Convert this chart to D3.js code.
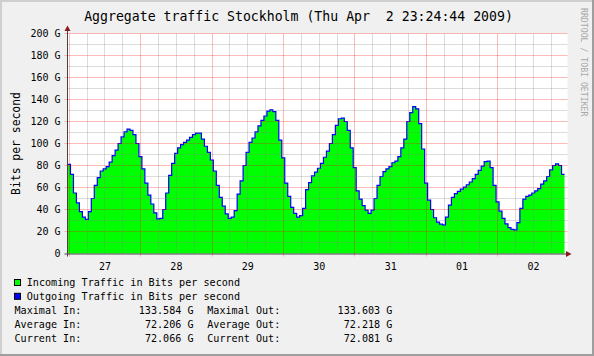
<!DOCTYPE html>
<html>
<head>
<meta charset="utf-8">
<script src="https://cdn.jsdelivr.net/npm/d3@7"></script>
<style>
  html, body { margin: 0; padding: 0; background: #f0f0f0; }
  svg { display: block; }
  text { font-family: "DejaVu Sans Mono", monospace; fill: #000; }
</style>
</head>
<body>
<svg id="chart" width="594" height="356"></svg>
<script>
// ---------------- data ----------------
const titleText = "Aggregate traffic Stockholm (Thu Apr  2 23:24:44 2009)";
const yAxisTitle = "Bits per second";
const watermark = "RRDTOOL / TOBI OETIKER";
const startTime = Date.UTC(2009, 2, 26, 23, 24, 44);
const endTime = Date.UTC(2009, 3, 2, 23, 24, 44);
const stepMs = 3600 * 1000; // hourly samples

// Incoming traffic, G bits/s, hourly from start
const incoming = [
  81, 72, 55, 46, 38, 33, 31, 38, 50, 62, 69, 75, 77, 79, 83, 89, 94, 100, 106, 110.5,
  113, 112, 108, 100, 88, 77, 64, 53, 45, 37, 31.5, 32, 40, 55, 71, 82, 91, 96, 99, 101,
  103, 105.5, 108, 109.5, 109.5, 104, 97.5, 92, 85, 75, 62, 51, 43, 36, 32, 33, 39,
  54, 66, 80, 92, 101, 105, 110.5, 116, 121, 125, 129.5, 130.6, 129, 121, 103, 87, 64, 52, 42, 36.5,
  33, 34.5, 41, 58, 64.5, 70.5, 74, 77.5, 82, 87.5, 93, 100, 108, 116.5, 122.5, 123, 120, 112, 96, 78,
  57, 49.5, 43.5, 39.5, 36.5, 39.5, 50, 62, 70, 74.5, 77, 79, 82.5, 84, 88, 96, 104,
  120, 128, 133.6, 131.5, 118, 95, 64, 48.5, 40, 32.5, 28.5, 26.7, 26, 33, 44, 51, 54.5, 56.5, 58.5, 60.3,
  62.5, 65, 68, 72, 75.5, 79.5, 83.5, 84, 78, 62, 47, 38.5, 32, 27, 23.6, 22, 21.5, 28, 41, 49.5,
  52, 53, 55, 57, 59, 63, 66, 70, 76, 80, 81.5, 80, 72
];
// Outgoing traffic (visually identical to incoming)
const outgoing = [
  81, 72, 55, 46, 38, 33, 31, 38, 50, 62, 69, 75, 77, 79, 83, 89, 94, 100, 106, 110.5,
  113, 112, 108, 100, 88, 77, 64, 53, 45, 37, 31.5, 32, 40, 55, 71, 82, 91, 96, 99, 101,
  103, 105.5, 108, 109.5, 109.5, 104, 97.5, 92, 85, 75, 62, 51, 43, 36, 32, 33, 39,
  54, 66, 80, 92, 101, 105, 110.5, 116, 121, 125, 129.5, 130.6, 129, 121, 103, 87, 64, 52, 42, 36.5,
  33, 34.5, 41, 58, 64.5, 70.5, 74, 77.5, 82, 87.5, 93, 100, 108, 116.5, 122.5, 123, 120, 112, 96, 78,
  57, 49.5, 43.5, 39.5, 36.5, 39.5, 50, 62, 70, 74.5, 77, 79, 82.5, 84, 88, 96, 104,
  120, 128, 133.6, 131.5, 118, 95, 64, 48.5, 40, 32.5, 28.5, 26.7, 26, 33, 44, 51, 54.5, 56.5, 58.5, 60.3,
  62.5, 65, 68, 72, 75.5, 79.5, 83.5, 84, 78, 62, 47, 38.5, 32, 27, 23.6, 22, 21.5, 28, 41, 49.5,
  52, 53, 55, 57, 59, 63, 66, 70, 76, 80, 81.5, 80, 72
];

const yTickValues = [0, 20, 40, 60, 80, 100, 120, 140, 160, 180, 200];
const yTickLabels = ["0", "20 G", "40 G", "60 G", "80 G", "100 G", "120 G", "140 G", "160 G", "180 G", "200 G"];
const dayLabels = ["27", "28", "29", "30", "31", "01", "02"];

const legendNames = ["Incoming Traffic in Bits per second", "Outgoing Traffic in Bits per second"];
const legendColors = ["#00ff00", "#0000ff"];
const statInLabels = ["Maximal In:", "Average In:", "Current In:"];
const statInValues = ["133.584 G", "72.206 G", "72.066 G"];
const statOutLabels = ["Maximal Out:", "Average Out:", "Current Out:"];
const statOutValues = ["133.603 G", "72.218 G", "72.081 G"];

// ---------------- layout ----------------
const W = 594, H = 356;
const L = 67.5, R = 567.5, T = 33.5, B = 253.5;

const svg = d3.select("#chart");

// background & 3D frame
svg.append("rect").attr("x", 0).attr("y", 0).attr("width", W).attr("height", H).attr("fill", "#f0f0f0");
svg.append("rect").attr("x", 0).attr("y", 0).attr("width", W).attr("height", 2).attr("fill", "#cfcfcf");
svg.append("rect").attr("x", 0).attr("y", 0).attr("width", 2).attr("height", H).attr("fill", "#cfcfcf");
svg.append("rect").attr("x", 0).attr("y", H - 2).attr("width", W).attr("height", 2).attr("fill", "#9e9e9e");
svg.append("rect").attr("x", W - 2).attr("y", 0).attr("width", 2).attr("height", H).attr("fill", "#9e9e9e");

// canvas
svg.append("rect").attr("x", L).attr("y", T).attr("width", R - L).attr("height", B - T).attr("fill", "#ffffff");

const x = d3.scaleUtc().domain([new Date(startTime), new Date(endTime)]).range([L, R]);
const y = d3.scaleLinear().domain([0, 200]).range([B, T]);

const pts = incoming.map((v, i) => ({ t: new Date(startTime + i * stepMs), v }));
pts.push({ t: new Date(startTime + incoming.length * stepMs), v: incoming[incoming.length - 1] });
const ptsOut = outgoing.map((v, i) => ({ t: new Date(startTime + i * stepMs), v }));
ptsOut.push({ t: new Date(startTime + outgoing.length * stepMs), v: outgoing[outgoing.length - 1] });

// area
const area = d3.area().x(d => x(d.t)).y0(y(0)).y1(d => y(d.v)).curve(d3.curveStepAfter);
svg.append("path").datum(pts).attr("d", area).attr("fill", "#00ff00");

// line
const line = d3.line().x(d => x(d.t)).y(d => y(d.v)).curve(d3.curveStepAfter);
svg.append("path").datum(ptsOut).attr("d", line).attr("fill", "none")
  .attr("stroke", "#0000ff").attr("stroke-width", 1.2);

// grid
const px = v => Math.round(v - 0.5) + 0.5;
const minorColor = "rgba(128,128,128,0.28)";
const majorColor = "rgba(255,0,0,0.27)";
const g = svg.append("g");

// horizontal minor (every 10)
d3.range(10, 200, 20).forEach(v => {
  g.append("line").attr("x1", L).attr("x2", R).attr("y1", px(y(v))).attr("y2", px(y(v)))
    .attr("stroke", minorColor).attr("stroke-width", 1);
});
// horizontal major
yTickValues.filter(v => v > 0).forEach(v => {
  g.append("line").attr("x1", L - 3).attr("x2", R).attr("y1", px(y(v))).attr("y2", px(y(v)))
    .attr("stroke", majorColor).attr("stroke-width", 1);
});
// vertical minor every 6 hours
const sixHours = d3.utcHour.every(6).range(new Date(startTime), new Date(endTime))
  .filter(d => d.getUTCHours() !== 0);
sixHours.forEach(d => {
  g.append("line").attr("x1", px(x(d))).attr("x2", px(x(d))).attr("y1", T).attr("y2", B)
    .attr("stroke", minorColor).attr("stroke-width", 1);
});
// vertical major at midnight
const days = d3.utcDay.range(new Date(startTime), new Date(endTime));
days.forEach(d => {
  g.append("line").attr("x1", px(x(d))).attr("x2", px(x(d))).attr("y1", T).attr("y2", B + 3)
    .attr("stroke", majorColor).attr("stroke-width", 1);
});

// axes
const axisColor = "#444444";
const arrowColor = "#8b1a1a";
svg.append("line").attr("x1", L - 3).attr("x2", 566).attr("y1", B + 0.5).attr("y2", B + 0.5)
  .attr("stroke", axisColor).attr("stroke-width", 1);
svg.append("line").attr("x1", L).attr("x2", L).attr("y1", B + 3).attr("y2", 30)
  .attr("stroke", axisColor).attr("stroke-width", 1);
svg.append("path").attr("d", `M566,${B - 2.5}L571.5,${B + 0.5}L566,${B + 3.5}Z`).attr("fill", arrowColor);
svg.append("path").attr("d", `M${L - 3},31L${L},25.5L${L + 3},31Z`).attr("fill", arrowColor);

// y tick labels
yTickValues.forEach((v, i) => {
  svg.append("text").attr("x", 60.5).attr("y", y(v) + 3.6).attr("text-anchor", "end")
    .attr("font-size", "10px").text(yTickLabels[i]);
});

// x tick labels (centered at noon of each day)
const noons = d3.utcDay.range(new Date(startTime - 12 * 3600e3), new Date(endTime)).map(d => new Date(+d + 12 * 3600e3));
noons.forEach((d, i) => {
  svg.append("text").attr("x", x(d)).attr("y", 269.5).attr("text-anchor", "middle")
    .attr("font-size", "10px").text(dayLabels[i]);
});

// title
svg.append("text").attr("x", 298.5).attr("y", 21).attr("text-anchor", "middle")
  .attr("font-size", "13.2px").attr("xml:space", "preserve").style("white-space", "pre").text(titleText);

// y axis title
svg.append("text").attr("transform", "translate(19.5,143.5) rotate(-90)").attr("text-anchor", "middle")
  .attr("font-size", "11.4px").text(yAxisTitle);

// watermark
svg.append("text").attr("transform", "translate(580.5,8) rotate(90)").attr("text-anchor", "start")
  .attr("font-size", "8.2px").style("fill", "#a8a8a8").text(watermark);

// legend
legendNames.forEach((name, i) => {
  const yy = 286 + i * 13.8;
  svg.append("rect").attr("x", 14.5).attr("y", yy - 6.5).attr("width", 6).attr("height", 6)
    .attr("fill", legendColors[i]).attr("stroke", "#000").attr("stroke-width", 1);
  svg.append("text").attr("x", 26.7).attr("y", yy).attr("font-size", "10.15px").text(name);
});
statInLabels.forEach((lab, i) => {
  const yy = 313.7 + i * 14.1;
  svg.append("text").attr("x", 14.5).attr("y", yy).attr("font-size", "10.1px").text(lab);
  svg.append("text").attr("x", 193.5).attr("y", yy).attr("text-anchor", "end").attr("font-size", "10.1px").text(statInValues[i]);
  svg.append("text").attr("x", 207.3).attr("y", yy).attr("font-size", "10.1px").text(statOutLabels[i]);
  svg.append("text").attr("x", 392.3).attr("y", yy).attr("text-anchor", "end").attr("font-size", "10.1px").text(statOutValues[i]);
});
</script>
</body>
</html>
